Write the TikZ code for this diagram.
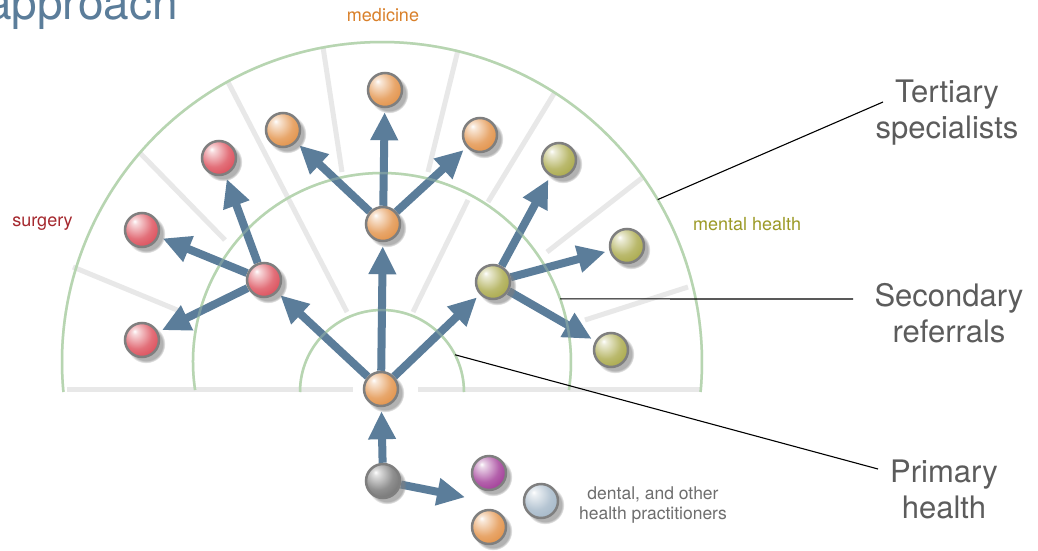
\documentclass[tikz,border=0pt]{standalone}
\usepackage{fontspec}
\setmainfont{TeX Gyre Heros}
\usetikzlibrary{arrows.meta,shadows}
\pgfdeclarelayer{bg}
\pgfdeclarelayer{back}
\pgfsetlayers{bg,back,main}
\definecolor{arrowc}{HTML}{5B7D9A}
\definecolor{arcc}{HTML}{B7D5B1}
\definecolor{spokec}{HTML}{E8E8E8}
\definecolor{ringc}{HTML}{7F7F7F}
\definecolor{corange}{HTML}{E0893A}
\definecolor{cred}{HTML}{D9404D}
\definecolor{colive}{HTML}{A3A23C}
\definecolor{cgray}{HTML}{6A6A6A}
\definecolor{cpurple}{HTML}{9A2C8F}
\definecolor{cblue}{HTML}{9DB2C4}
\definecolor{labc}{HTML}{5C5C5C}
\definecolor{medc}{HTML}{D9802A}
\definecolor{surgc}{HTML}{A5282E}
\definecolor{mentc}{HTML}{9C9A26}
\definecolor{dentc}{HTML}{6E6E6E}
\newcommand\mkshade[2]{\pgfdeclareradialshading{sh#1}{\pgfpoint{-11bp}{13bp}}{color(0bp)=(white); color(4bp)=(#2!20!white); color(22bp)=(#2!75!white); color(40bp)=(#2); color(58bp)=(#2!85!black); color(70bp)=(#2!75!black)}}
\mkshade{orange}{corange}
\mkshade{red}{cred}
\mkshade{olive}{colive}
\mkshade{gray}{cgray}
\mkshade{purple}{cpurple}
\mkshade{blue}{cblue}
\begin{document}
\begin{tikzpicture}[x=1pt,y=-1pt,
  arcline/.style={draw=arcc, line width=2.5pt},
  spoke/.style={draw=spokec, line width=5pt},
  refarrow/.style={draw=arrowc, line width=8pt, -{Triangle[length=28pt,width=26pt]}, shorten >=4pt},
  leader/.style={draw=black, line width=1.1pt},
  sphere/.style={circle, minimum size=34pt, inner sep=0pt, draw=ringc, line width=2.5pt, shade, shading=sh#1,
    circular drop shadow={shadow xshift=3.5pt, shadow yshift=-3.5pt, shadow scale=1.14, opacity=0.6}},
  biglab/.style={font=\fontsize{31}{36}\selectfont, text=labc, align=center, inner sep=0pt, anchor=north},
  smalllab/.style={font=\fontsize{18}{21}\selectfont, inner sep=0pt, anchor=base}]
\useasboundingbox (0,0) rectangle (1038,551);
\begin{pgfonlayer}{bg}
\fill[white] (0,0) rectangle (1038,551);
\end{pgfonlayer}

% centres of the rings
\coordinate (c1) at (382,362);
\coordinate (c0) at (382,392);

% balls
\node[sphere=orange] (P) at (381,389) {};
\node[sphere=gray] (G) at (383,481) {};
\node[sphere=purple] (Cp) at (489,473) {};
\node[sphere=blue] (Cb) at (541,501) {};
\node[sphere=orange] (Co) at (489,527) {};
\node[sphere=orange] (M) at (383,224) {};
\node[sphere=red] (R) at (264,280) {};
\node[sphere=olive] (O) at (493,282) {};
\node[sphere=orange] (Mt) at (385,90) {};
\node[sphere=orange] (Ml) at (283,130) {};
\node[sphere=orange] (Mr) at (480,135) {};
\node[sphere=red] (Rt) at (219,158) {};
\node[sphere=red] (Rm) at (142,230) {};
\node[sphere=red] (Rl) at (142,340) {};
\node[sphere=olive] (Ot) at (559,160) {};
\node[sphere=olive] (Om) at (627,246) {};
\node[sphere=olive] (Ol) at (611,350) {};
\coordinate (gt) at (469,498);

% texts
\node[anchor=base east, font=\fontsize{46}{50}\selectfont, text=arrowc, inner sep=0pt] (title) at (178,20) {approach};
\node[smalllab, text=medc] (med) at (383,21.5) {medicine};
\node[smalllab, text=surgc] (surg) at (42.5,226) {surgery};
\node[smalllab, text=mentc] (ment) at (747,230) {mental health};
\node[font=\fontsize{17.5}{20}\selectfont, text=dentc, align=center, inner sep=0pt, anchor=north] (dent) at (653,487) {dental, and other\\health practitioners};
\node[biglab] (tert) at (947,80) {Tertiary\\specialists};
\node[biglab] (sec) at (949,283) {Secondary\\referrals};
\node[biglab] (prim) at (944,460) {Primary\\health};

\coordinate (lt) at ([shift={(30.5:320pt)}]c1);
\coordinate (ls) at ([shift={(19.5:189pt)}]c1);
\coordinate (lp) at ([shift={(27:82pt)}]c0);
\coordinate (et) at (883,102);
\coordinate (es) at (853,299);
\coordinate (ep) at (878,469);

\begin{pgfonlayer}{back}
  % spokes
  \draw[spoke] (67,389) -- (353,389);
  \draw[spoke] (418,389) -- (700,389);
  \draw[spoke] (73,267) -- (182,312);
  \draw[spoke] (140,153) -- (225,240);
  \draw[spoke] (228,82) -- (347,312);
  \draw[spoke] (323,47) -- (342,172);
  \draw[spoke] (458,50) -- (428,172);
  \draw[spoke] (555,92) -- (488,202);
  \draw[spoke] (468,200) -- (413,312);
  \draw[spoke] (642,178) -- (547,252);
  \draw[spoke] (688,287) -- (585,320);
  % rings
  \draw[arcline] ([shift={(185.38:320pt)}]c1) arc[start angle=185.38, end angle=-5.38, radius=320pt];
  \draw[arcline] ([shift={(188.52:189pt)}]c1) arc[start angle=188.52, end angle=-8.52, radius=189pt];
  \draw[arcline] ([shift={(180:82pt)}]c0) arc[start angle=180, end angle=0, radius=82pt];
  % referral arrows
  \draw[refarrow] (G) -- (P);
  \draw[refarrow] (G) -- (gt);
  \draw[refarrow] (P) -- (R);
  \draw[refarrow] (P) -- (M);
  \draw[refarrow] (P) -- (O);
  \draw[refarrow] (R) -- (Rt);
  \draw[refarrow] (R) -- (Rm);
  \draw[refarrow] (R) -- (Rl);
  \draw[refarrow] (M) -- (Mt);
  \draw[refarrow] (M) -- (Ml);
  \draw[refarrow] (M) -- (Mr);
  \draw[refarrow] (O) -- (Ot);
  \draw[refarrow] (O) -- (Om);
  \draw[refarrow] (O) -- (Ol);
  % rings seen faintly through the arrows
  \draw[arcline, opacity=0.35] ([shift={(185.38:320pt)}]c1) arc[start angle=185.38, end angle=-5.38, radius=320pt];
  \draw[arcline, opacity=0.35] ([shift={(188.52:189pt)}]c1) arc[start angle=188.52, end angle=-8.52, radius=189pt];
  \draw[arcline, opacity=0.35] ([shift={(180:82pt)}]c0) arc[start angle=180, end angle=0, radius=82pt];
  % leader lines
  \draw[leader] (lt) -- (et);
  \draw[leader] (ls) -- (es);
  \draw[leader] (lp) -- (ep);
\end{pgfonlayer}
\end{tikzpicture}
\end{document}
